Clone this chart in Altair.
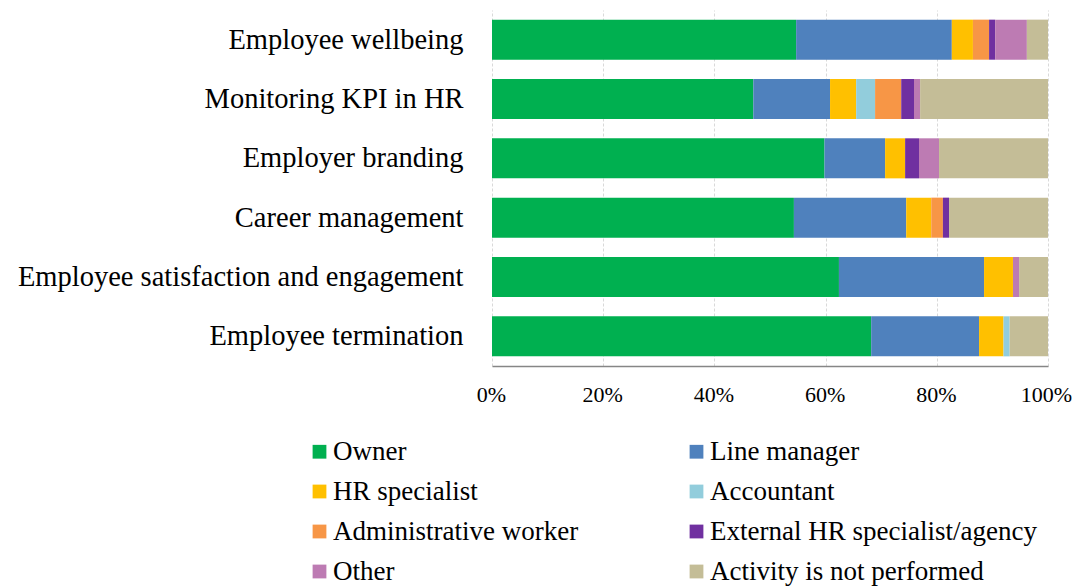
import altair as alt
import pandas as pd

activities = [
    "Employee wellbeing",
    "Monitoring KPI in HR",
    "Employer branding",
    "Career management",
    "Employee satisfaction and engagement",
    "Employee termination",
]
roles = [
    "Owner",
    "Line manager",
    "HR specialist",
    "Accountant",
    "Administrative worker",
    "External HR specialist/agency",
    "Other",
    "Activity is not performed",
]
colors = ["#00B050", "#4F81BD", "#FFC000", "#92CDDC", "#F79646", "#7030A0", "#BD7BB3", "#C4BD97"]

owner = [54.7, 47.0, 59.8, 54.3, 62.4, 68.2]
line_manager = [28.0, 13.8, 10.9, 20.2, 26.1, 19.4]
hr_specialist = [3.8, 4.7, 3.6, 4.5, 5.2, 4.4]
accountant = [0.0, 3.4, 0.0, 0.0, 0.0, 1.1]
admin_worker = [2.9, 4.7, 0.0, 2.1, 0.0, 0.0]
external = [1.1, 2.3, 2.5, 1.1, 0.0, 0.0]
other = [5.7, 1.1, 3.6, 0.0, 1.1, 0.0]
not_performed = [3.8, 23.0, 19.6, 17.8, 5.2, 6.9]

series = [owner, line_manager, hr_specialist, accountant, admin_worker, external, other, not_performed]

rows = []
for r_i, (role, vals) in enumerate(zip(roles, series)):
    for a, v in zip(activities, vals):
        rows.append({"activity": a, "role": role, "value": v, "order": r_i})
df = pd.DataFrame(rows)

FONT = "Liberation Serif"

chart = (
    alt.Chart(df)
    .mark_bar()
    .encode(
        y=alt.Y(
            "activity:N",
            sort=activities,
            scale=alt.Scale(paddingInner=0.325, paddingOuter=0.1625),
            axis=alt.Axis(
                title=None,
                domain=False,
                ticks=False,
                labelFont=FONT,
                labelFontSize=28.5,
                labelColor="#000000",
                labelPadding=29,
                labelLimit=600,
            ),
        ),
        x=alt.X(
            "value:Q",
            stack="normalize",
            scale=alt.Scale(domain=[0, 1], nice=False),
            axis=alt.Axis(
                title=None,
                format=".0%",
                values=[0, 0.2, 0.4, 0.6, 0.8, 1.0],
                domain=True,
                domainColor="#868686",
                domainWidth=1.5,
                ticks=False,
                grid=True,
                gridColor="#D9D9D9",
                gridDash=[3, 2],
                gridWidth=1,
                labelFont=FONT,
                labelFontSize=22,
                labelColor="#000000",
                labelPadding=18,
                labelFlush=False,
                labelOffset={"condition": {"test": "datum.value >= 1", "value": -2}, "value": -1},
            ),
        ),
        color=alt.Color(
            "role:N",
            sort=roles,
            scale=alt.Scale(domain=roles, range=colors),
            legend=alt.Legend(
                title=None,
                orient="none",
                direction="horizontal",
                legendX=-186,
                legendY=428,
                columns=2,
                columnPadding=104,
                rowPadding=12,
                symbolType="square",
                symbolSize=190,
                symbolStrokeWidth=0,
                labelFont=FONT,
                labelFontSize=27,
                labelColor="#000000",
                labelLimit=500,
                labelOffset=0,
            ),
        ),
        order=alt.Order("order:Q", sort="ascending"),
    )
    .properties(
        width=556,
        height=356,
        autosize=alt.AutoSizeParams(type="none"),
        padding={"left": 484, "top": 2, "right": 24, "bottom": 221},
    )
    .configure_view(stroke=None)
)

chart.save("out.html", embed_options={"renderer": "svg", "actions": False})
